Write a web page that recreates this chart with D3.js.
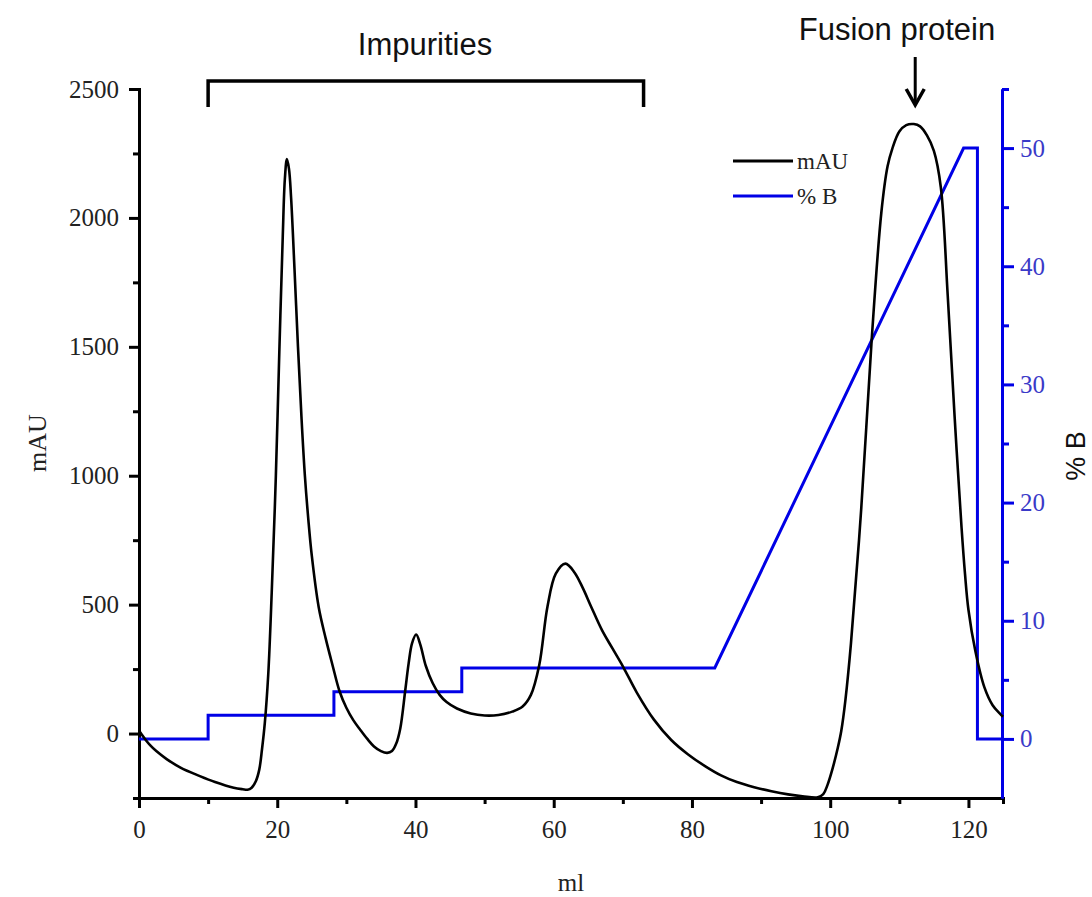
<!DOCTYPE html>
<html>
<head>
<meta charset="utf-8">
<script src="https://cdn.jsdelivr.net/npm/d3@7"></script>
<style>
  html, body { margin: 0; padding: 0; background: #fff; }
  svg { display: block; }
</style>
</head>
<body>
<svg id="chart" width="1092" height="897"></svg>
<script>
// ---------- data ----------
const mauTrace = [
  [0, 12], [0.5, -8], [1, -26], [1.6, -45], [2.5, -68], [4, -99], [6, -132], [8.8, -165],
  [11, -188], [13.7, -210], [15, -216], [15.7, -218], [16.3, -210], [16.9, -185], [17.4, -140],
  [17.8, -60], [18.2, 40], [18.7, 230], [19.2, 546], [19.8, 1000], [20.3, 1480], [20.8, 1930],
  [21.1, 2150], [21.4, 2228], [21.7, 2190], [22, 2080], [22.5, 1800], [23, 1500], [23.5, 1230],
  [24, 1000], [24.5, 830], [25, 690], [26, 490], [27, 370], [28, 265], [29, 165],
  [30, 100], [31, 52], [32, 15], [33, -20], [34, -50], [35, -68], [35.9, -75],
  [36.6, -68], [37.2, -40], [37.8, 20], [38.5, 163], [39, 270], [39.5, 350], [40.1, 384],
  [40.7, 345], [41.5, 262], [42.5, 195], [43.5, 150], [44.5, 122], [46, 97], [48, 78],
  [50, 70], [52, 72], [54, 85], [55.5, 105], [56.7, 150], [57.9, 265], [59.1, 493],
  [60.3, 620], [61.7, 659], [63, 625], [64.2, 565], [65.4, 493], [67, 400], [68.5, 330],
  [70.1, 256], [72, 160], [74.5, 54], [77, -25], [79.4, -80], [82, -128], [84.2, -162],
  [86.5, -188], [89, -208], [91.5, -224], [93.9, -236], [96, -243], [98.2, -247],
  [99, -235], [99.6, -200], [100.3, -140], [101.1, -55], [101.6, 10], [102.2, 130],
  [103, 349], [104.5, 876], [106, 1527], [107.4, 2021], [108.3, 2200], [109, 2270],
  [110, 2335], [111, 2360], [112.1, 2364], [113, 2355], [114, 2320], [115, 2260],
  [116, 2120], [117, 1700], [118, 1229], [119, 800], [119.5, 620], [120, 480], [121, 320],
  [122.3, 180], [123.5, 110], [125, 65]
];
const bMl  = [0, 10, 10, 28.2, 28.2, 46.7, 46.7, 83.3, 119.3, 121.3, 121.3, 125];
const bPct = [0, 0, 2, 2, 4, 4, 6, 6, 50, 50, 0, 0];

const xMajor = [0, 20, 40, 60, 80, 100, 120];
const xMinor = [10, 30, 50, 70, 90, 110];
const yLMajor = [0, 500, 1000, 1500, 2000, 2500];
const yLMinor = [250, 750, 1250, 1750, 2250];
const yRMajor = [0, 10, 20, 30, 40, 50];
const yRMinor = [5, 15, 25, 35, 45, 55];
const legendLabels = ["mAU", "% B"];

// ---------- scales ----------
const svg = d3.select("#chart");
const x = d3.scaleLinear().domain([0, 125]).range([139, 1003]);
const yL = d3.scaleLinear().domain([-250, 2500]).range([798, 89]);
const yR = d3.scaleLinear().domain([-5, 55]).range([798, 89]);

const serif = "'Liberation Serif', 'Times New Roman', serif";
const sans = "'Liberation Sans', Arial, sans-serif";
const blue = "#0000e6";
const blueText = "#3a3ac8";

function styleAxis(g, color, textColor) {
  g.select(".domain").attr("stroke", color).attr("stroke-width", 3);
  g.selectAll(".tick line").attr("stroke", color).attr("stroke-width", 3);
  g.selectAll(".tick text").attr("font-family", serif).attr("font-size", 25).attr("fill", textColor);
}

// minor ticks (no labels)
svg.append("g").attr("transform", "translate(0,798)")
  .call(d3.axisBottom(x).tickValues(xMinor).tickSize(6).tickFormat(""))
  .call(g => styleAxis(g, "#000", "#222"));
svg.append("g").attr("transform", "translate(139,0)")
  .call(d3.axisLeft(yL).tickValues(yLMinor).tickSize(6).tickFormat(""))
  .call(g => styleAxis(g, "#000", "#222"));

// major axes
svg.append("g").attr("transform", "translate(0,798)")
  .call(d3.axisBottom(x).tickValues(xMajor).tickSize(10).tickSizeOuter(0).tickPadding(12).tickFormat(d3.format("d")))
  .call(g => styleAxis(g, "#000", "#222"));
svg.append("g").attr("transform", "translate(139,0)")
  .call(d3.axisLeft(yL).tickValues(yLMajor).tickSize(10).tickSizeOuter(0).tickPadding(10).tickFormat(d3.format("d")))
  .call(g => styleAxis(g, "#000", "#222"));

// right axis
svg.append("g").attr("transform", "translate(1002,0)")
  .call(d3.axisRight(yR).tickValues(yRMinor).tickSize(7).tickSizeOuter(0).tickFormat(""))
  .call(g => styleAxis(g, blue, blueText));
svg.append("g").attr("transform", "translate(1002,0)")
  .call(d3.axisRight(yR).tickValues(yRMajor).tickSize(12).tickSizeOuter(0).tickPadding(6).tickFormat(d3.format("d")))
  .call(g => styleAxis(g, blue, blueText));

// ---------- lines ----------
const bData = bMl.map((m, i) => [m, bPct[i]]);
svg.append("path")
  .datum(bData)
  .attr("fill", "none").attr("stroke", blue).attr("stroke-width", 3)
  .attr("stroke-linejoin", "miter")
  .attr("d", d3.line().x(d => x(d[0])).y(d => yR(d[1])));

svg.append("path")
  .datum(mauTrace)
  .attr("fill", "none").attr("stroke", "#000").attr("stroke-width", 2.6)
  .attr("d", d3.line().curve(d3.curveCatmullRom.alpha(0.5)).x(d => x(d[0])).y(d => yL(d[1])));

// ---------- axis titles ----------
svg.append("text")
  .attr("transform", "translate(46,443) rotate(-90)")
  .attr("text-anchor", "middle")
  .attr("font-family", serif).attr("font-size", 26).attr("fill", "#222")
  .text("mAU");
svg.append("text")
  .attr("x", x(62.5)).attr("y", 891)
  .attr("text-anchor", "middle")
  .attr("font-family", serif).attr("font-size", 25).attr("fill", "#222")
  .text("ml");
svg.append("text")
  .attr("transform", "translate(1085,456) rotate(-90)")
  .attr("text-anchor", "middle")
  .attr("font-family", sans).attr("font-size", 27).attr("fill", "#111")
  .text("% B");

// ---------- legend ----------
const legendColors = ["#000", blue];
legendLabels.forEach((lab, i) => {
  const ly = 161 + i * 35;
  svg.append("line").attr("x1", 733).attr("x2", 793).attr("y1", ly).attr("y2", ly)
    .attr("stroke", legendColors[i]).attr("stroke-width", 3);
  svg.append("text").attr("x", 797).attr("y", ly + 8)
    .attr("font-family", serif).attr("font-size", 23).attr("fill", "#222")
    .text(lab);
});

// ---------- annotations ----------
svg.append("path")
  .attr("d", `M${x(10)},107 V81 H${x(73)} V107`)
  .attr("fill", "none").attr("stroke", "#000").attr("stroke-width", 3.5);
svg.append("text")
  .attr("x", 425).attr("y", 55).attr("text-anchor", "middle")
  .attr("font-family", sans).attr("font-size", 31).attr("fill", "#111")
  .text("Impurities");

svg.append("text")
  .attr("x", 897).attr("y", 40).attr("text-anchor", "middle")
  .attr("font-family", sans).attr("font-size", 31).attr("fill", "#111")
  .text("Fusion protein");
const ax = x(112.3);
svg.append("line").attr("x1", ax).attr("x2", ax).attr("y1", 57).attr("y2", 102)
  .attr("stroke", "#000").attr("stroke-width", 3);
svg.append("path")
  .attr("d", `M${ax - 9},89 L${ax},105 L${ax + 9},89`)
  .attr("fill", "none").attr("stroke", "#000").attr("stroke-width", 3.5)
  .attr("stroke-linejoin", "miter");
</script>
</body>
</html>
